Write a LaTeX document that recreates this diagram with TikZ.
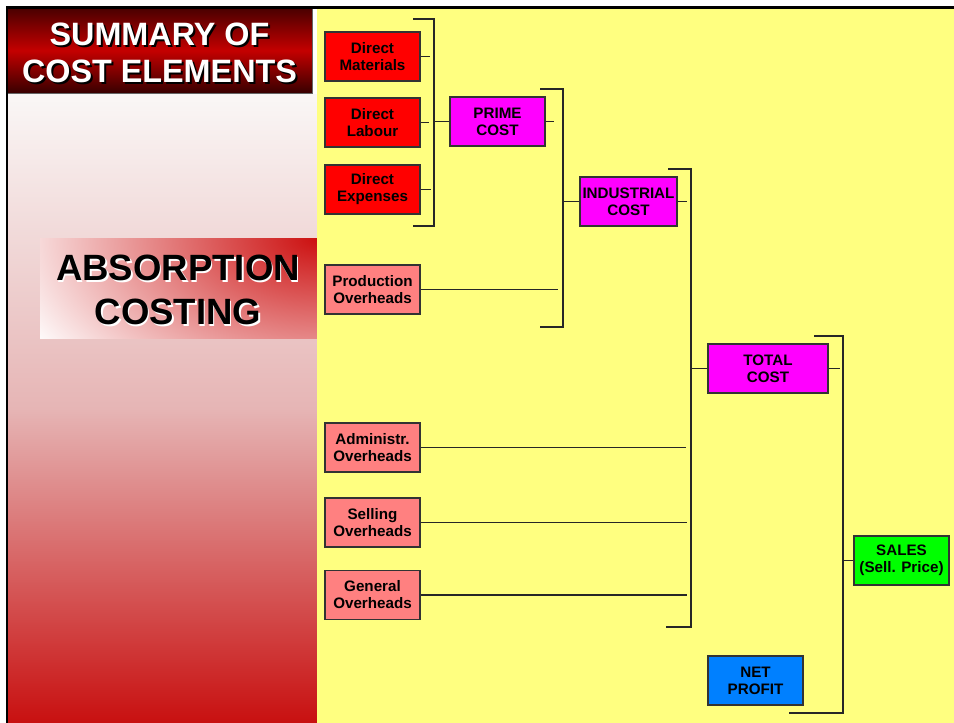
\documentclass[tikz,border=0pt]{standalone}
\usepackage{fontspec}
\setmainfont{Liberation Sans}
\usepackage{xcolor}
\usepackage{tikz}
\usetikzlibrary{calc}
\usetikzlibrary{positioning}

\definecolor{padyellow}{HTML}{FFFF80}
\definecolor{directred}{HTML}{FF0000}
\definecolor{overpink}{HTML}{FF8080}
\definecolor{costmagenta}{HTML}{FF00FF}
\definecolor{salesgreen}{HTML}{00FF00}
\definecolor{profitblue}{HTML}{0080FF}
\definecolor{titledark}{HTML}{4A0000}
\definecolor{titlered}{HTML}{C40000}
\definecolor{titledeep}{HTML}{380000}
\definecolor{panelwhite}{HTML}{FAF7F6}
\definecolor{panelpink}{HTML}{E6B5B5}
\definecolor{panelred}{HTML}{C81010}
\definecolor{absred}{HTML}{CC1010}

\begin{document}
\begin{tikzpicture}[x=0.025cm,y=-0.025cm,
	costbox/.style={draw=black!80,line width=1pt,minimum width=2.375cm,minimum height=1.225cm,
		inner sep=0pt,align=center,font=\fontsize{10.8}{12}\selectfont\bfseries},
	wire/.style={line width=1.1pt,black!85},
	titletext/.style={align=center,font=\fontsize{23}{26.5}\selectfont\bfseries},
	abstext/.style={align=center,font=\fontsize{26}{31.3}\selectfont\bfseries}]
		\useasboundingbox (0,0) rectangle (954,723);
		\fill[white] (0,0) rectangle (954,723);
		% left panel
		\shade[top color=titledark,bottom color=titledeep,middle color=titlered] (8,8) rectangle (312,93);
		\draw[black!60,line width=0.6pt] (312,8) -- (312,93) -- (8,93);
		\shade[top color=panelwhite,bottom color=panelred,middle color=panelpink] (8,94) rectangle (317,723);
		\node[titletext,black] (ttlshadow) at (161.5,54.5) {SUMMARY OF\\COST ELEMENTS};
		\node[titletext,white] (ttl) at (159.5,52.5) {SUMMARY OF\\COST ELEMENTS};
		\begin{scope}
			\clip (40,238) rectangle (317,338);
			\fill[white] (40,238) rectangle (317,338);
			\shade[inner color=absred,outer color=white] (317,238) ellipse (330 and 200);
		\end{scope}
		\node[abstext,white] (absshadow) at (179.5,291.5) {ABSORPTION\\COSTING};
		\node[abstext,black] (abs) at (178,290) {ABSORPTION\\COSTING};
		% chart area
		\fill[padyellow] (317,9) rectangle (954,723);
		\draw[line width=2pt] (7,723) -- (7,7.5) -- (954,7.5);
		% boxes
		\node[costbox,fill=directred] (dm) at (372.5,56.5) {Direct\\Materials};
		\node[costbox,fill=directred] (dl) at (372.5,122.5) {Direct\\Labour};
		\node[costbox,fill=directred] (de) at (372.5,189.5) {Direct\\Expenses};
		\node[costbox,fill=overpink] (po) at (372.5,289.5) {Production\\Overheads};
		\node[costbox,fill=overpink] (ao) at (372.5,447.5) {Administr.\\Overheads};
		\node[costbox,fill=overpink] (so) at (372.5,522.5) {Selling\\Overheads};
		\node[costbox,fill=overpink] (go) at (372.5,595) {General\\Overheads};
		\node[costbox,fill=costmagenta] (pc) at (497.5,121.5) {PRIME\\COST};
		\node[costbox,fill=costmagenta,minimum width=2.425cm] (ic) at (628.5,201.5) {INDUSTRIAL\\COST};
		\node[costbox,fill=costmagenta,minimum width=3cm] (tc) at (768,368.5) {TOTAL\\COST};
		\node[costbox,fill=salesgreen] (sa) at (901.5,560.5) {SALES\\(Sell. Price)};
		\node[costbox,fill=profitblue] (np) at (755.5,680.5) {NET\\PROFIT};
		% brackets
		\coordinate (primebr) at (434,19);
		\coordinate (indbr) at (563,89);
		\coordinate (totbr) at (691,169);
		\coordinate (salesbr) at (843,336);
		\draw[wire] (413,19) -- (primebr) -- (434,226) -- (413,226);
		\draw[wire] (540,89) -- (indbr) -- (563,327) -- (540,327);
		\draw[wire] (668,169) -- (totbr) -- (691,627) -- (666,627);
		\draw[wire] (814,336) -- (salesbr) -- (843,713) -- (789,713);
		% ticks and links
		\draw[wire] (dm.east) -- ++(9,0);
		\draw[wire] (dl.east) -- ++(8,0);
		\draw[wire] (de.east) -- ++(10,0);
		\draw[wire] (pc.west -| primebr) -- (pc.west);
		\draw[wire] (pc.east) -- ++(8,0);
		\draw[wire] (po.east) -- ++(137,0);
		\draw[wire] (ic.west -| indbr) -- (ic.west);
		\draw[wire] (ic.east) -- ++(9,0);
		\draw[wire] (ao.east) -- ++(265,0);
		\draw[wire] (so.east) -- ++(266,0);
		\draw[wire] (go.east) -- ++(266,0);
		\draw[wire] (tc.west -| totbr) -- (tc.west);
		\draw[wire] (tc.east) -- ++(11,0);
		\draw[wire] (sa.west -| salesbr) -- (sa.west);
	\end{tikzpicture}
\end{document}
